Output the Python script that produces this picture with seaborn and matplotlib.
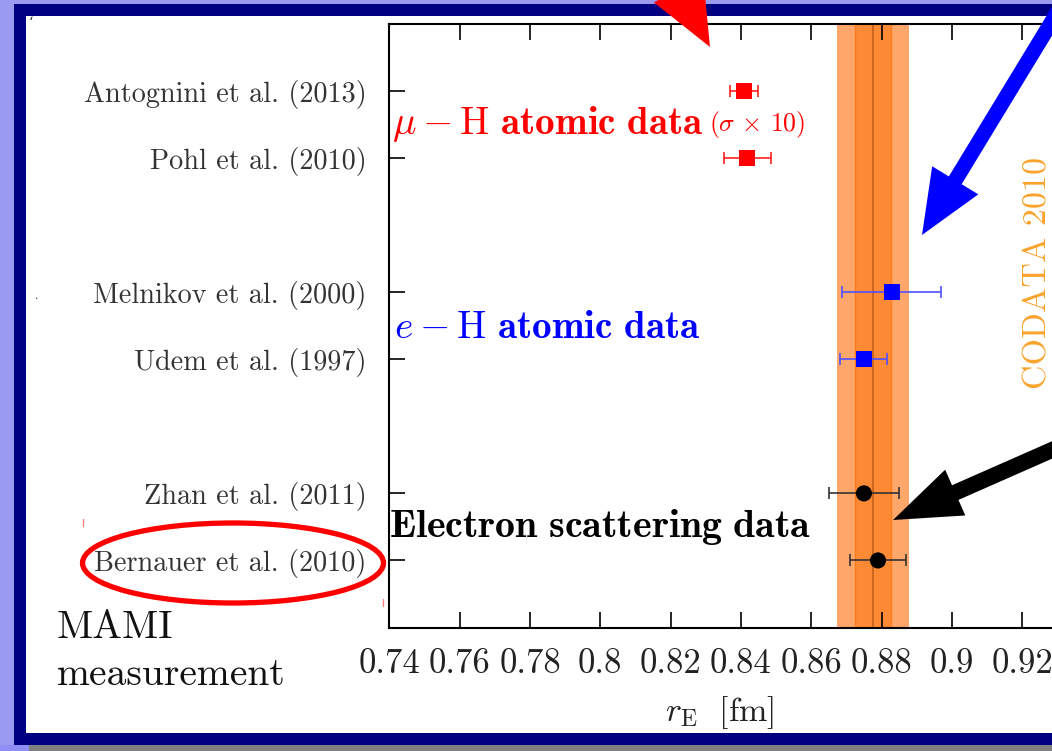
import matplotlib
matplotlib.use("Agg")
import matplotlib.pyplot as plt
import pandas as pd
import seaborn as sns
from matplotlib.patches import Rectangle, Ellipse, FancyArrow

# Proton charge radius determinations (fm); muonic-hydrogen errors are scaled by 10
labels = ["Antognini et al. (2013)", "Pohl et al. (2010)",
          "Melnikov et al. (2000)", "Udem et al. (1997)",
          "Zhan et al. (2011)", "Bernauer et al. (2010)"]
rows = [1, 2, 4, 5, 7, 8]
radius = [0.84087, 0.84184, 0.8829, 0.8749, 0.875, 0.879]
error = [0.0039, 0.0067, 0.0141, 0.0068, 0.0100, 0.0079]
group = ["muH", "muH", "eH", "eH", "scat", "scat"]

codata_r = 0.8775
codata_err = 0.0051

xticks = [0.74, 0.76, 0.78, 0.80, 0.82, 0.84, 0.86, 0.88, 0.90, 0.92]

df = pd.DataFrame({"label": labels, "row": rows, "radius": radius,
                   "error": error, "group": group})

sns.set_theme(style="ticks")
plt.rcParams["font.family"] = ["cmr10", "DejaVu Serif"]
plt.rcParams["mathtext.fontset"] = "cm"
plt.rcParams["axes.unicode_minus"] = False

W, H = 1052, 751
fig = plt.figure(figsize=(W / 100, H / 100), dpi=100)
fig.patch.set_facecolor("#808080")

# slide frame
bg = fig.add_axes([0, 0, 1, 1], zorder=0)
bg.set_xlim(0, W)
bg.set_ylim(H, 0)
bg.axis("off")
bg.add_patch(Rectangle((0, 0), W, H, color="#808080", lw=0))
bg.add_patch(Rectangle((0, 0), W, 745, color="#9a9af0", lw=0))
bg.add_patch(Rectangle((0, 745), 29, 6, color="#8e8ef4", lw=0))
bg.add_patch(Rectangle((14, 4), W, 741, color="#000080", lw=0))
bg.add_patch(Rectangle((26, 16), W, 717, color="white", lw=0))

# main axes (right part runs past the slide edge)
ax = fig.add_axes([389.4 / W, 1 - 627.5 / H, 703.0 / W, 603.5 / H], zorder=1)
ax.set_facecolor("white")

ax.axvspan(codata_r - 2 * codata_err, codata_r + 2 * codata_err,
           color="#ffa76b", lw=0, zorder=0)
ax.axvspan(codata_r - codata_err, codata_r + codata_err,
           color="#ff8a36", lw=0, zorder=0.5)
for edge in (codata_r - codata_err, codata_r + codata_err):
    ax.axvline(edge, color="#ff7a1a", lw=1.0, zorder=0.6)
ax.axvline(codata_r, color="#c8641e", lw=1.3, zorder=0.7)

palette = {"muH": "#ff0000", "eH": "#0000ff", "scat": "#000000"}
bar_colors = {"muH": "#ff2020", "eH": "#5050ff", "scat": "#333333"}
for g, sub in df.groupby("group"):
    ax.errorbar(sub["radius"], sub["row"], xerr=sub["error"], fmt="none",
                ecolor=bar_colors[g], elinewidth=1.2, capsize=4.5,
                capthick=1.2, zorder=2)

sns.scatterplot(data=df, x="radius", y="row", hue="group", style="group",
                palette=palette, markers={"muH": "s", "eH": "s", "scat": "o"},
                s=135, linewidth=0, legend=False, ax=ax, zorder=3)

ax.set_xlim(0.74, 0.94)
ax.set_ylim(9, 0)
ax.set_xticks(xticks)
ax.set_xticklabels([f"{t:g}" for t in xticks])
ax.set_yticks(rows)
ax.set_yticklabels(labels)
ax.set_xlabel("")
ax.set_ylabel("")
ax.tick_params(axis="x", direction="in", top=True, bottom=True, length=11.5,
               width=1.2, labelsize=25, pad=15, colors="black",
               labelcolor="#222222")
ax.tick_params(axis="y", direction="in", left=True, right=False, length=11.5,
               width=1.2, labelsize=20.3, pad=16.5, colors="black",
               labelcolor="#333333")
for sp in ax.spines.values():
    sp.set_color("black")
    sp.set_linewidth(1.5)

# annotations layer in pixel coordinates
ov = fig.add_axes([0, 0, 1, 1], zorder=5)
ov.set_xlim(0, W)
ov.set_ylim(H, 0)
ov.axis("off")
ov.patch.set_alpha(0)

ov.text(720, 721, r"$r_{\mathrm{E}}\ \ [\mathrm{fm}]$", fontsize=24.5,
        ha="center", va="baseline", color="#222222")

ov.text(392, 134, r"$\mu - \mathrm{H}\ \mathbf{atomic\ data}$",
        color="#ff0000", fontsize=28.2, va="baseline")
ov.text(709, 131, r"$(\sigma\,\times\,10)$", color="#ff0000", fontsize=18.5,
        va="baseline")
ov.text(394, 338, r"$e - \mathrm{H}\ \mathbf{atomic\ data}$",
        color="#0000ff", fontsize=28.2, va="baseline")
ov.text(389, 537, r"$\mathbf{Electron\ scattering\ data}$",
        color="black", fontsize=28.7, va="baseline")
ov.text(1038, 273, "CODATA 2010", rotation=90, color="#fba32c", fontsize=24.5,
        ha="center", va="center")

ov.text(57, 638, "MAMI", fontsize=28.5, color="#111111", va="baseline")
ov.text(57, 685, "measurement", fontsize=28.5, color="#111111", va="baseline")

ov.add_patch(Ellipse((233, 563), 301, 80, fill=False, ec="#ff0000", lw=3.8))

ov.add_patch(FancyArrow(590.5, -172.75, 119.5, 219.75, width=22,
                        head_width=56, head_length=66,
                        length_includes_head=True, color="#ff0000", lw=0))
ov.add_patch(FancyArrow(1078, -21.5, -156, 256.5, width=15,
                        head_width=54, head_length=64,
                        length_includes_head=True, color="#0000ff", lw=0))
ov.add_patch(FancyArrow(1076, 439.4, -183, 80.6, width=16,
                        head_width=50, head_length=68,
                        length_includes_head=True, color="black", lw=0))

# small stray marks
ov.text(29, 27, "\u2018", fontsize=10, family="DejaVu Serif", color="#333333")
ov.text(35, 299, ".", fontsize=9, color="#333333")
ov.plot([83, 83], [519, 526], color="#ff8080", lw=1)
ov.plot([383, 383], [599, 606], color="#ff8080", lw=1)

fig.savefig("out.png", dpi=100)
